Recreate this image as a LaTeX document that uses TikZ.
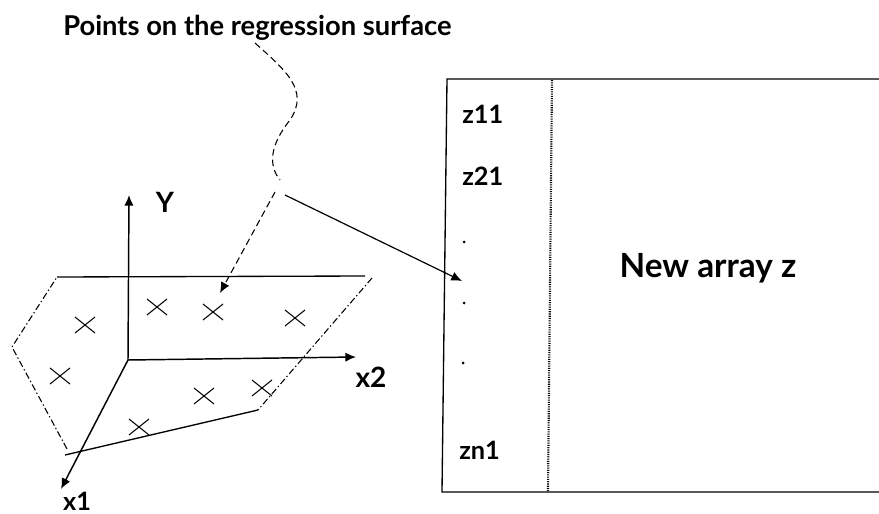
\documentclass[tikz,border=0pt]{standalone}
\usepackage{fontspec}
\setmainfont{Lato}
\usetikzlibrary{arrows.meta}
\begin{document}
\begin{tikzpicture}[x=0.75pt,y=-0.75pt,
  lbl/.style={font=\bfseries\fontsize{19}{22}\selectfont, inner sep=0pt},
  axis/.style={line width=1.1pt,-{Latex[length=8pt,width=7pt]}},
  edge/.style={line width=1pt},
  dedge/.style={line width=0.8pt,dash pattern=on 5pt off 2pt on 1pt off 2pt},
  lead/.style={line width=0.8pt,dash pattern=on 5pt off 3pt},
  ptr/.style={line width=0.9pt,-{Latex[length=8pt,width=7pt]}},
  cross/.style={line width=0.8pt}]
\useasboundingbox (0,0) rectangle (879,514);
% title
\node[lbl,font=\bfseries\fontsize{20.5}{24}\selectfont,anchor=west] (title) at (63,28) {Points on the regression surface};
% array box
\coordinate (bTR) at (879,79);
\coordinate (bTL) at (447,79);
\coordinate (bBL) at (442,492);
\coordinate (bBR) at (879,492);
\draw[edge] (bTR) -- (bTL) -- (bBL) -- (bBR);
\coordinate (dT) at (552,80);
\coordinate (dB) at (548,491);
\draw[line width=1.6pt,dash pattern=on 0.8pt off 0.9pt] (dT) -- (dB);
\node[lbl,anchor=west] (z11) at (462,114) {z11};
\node[lbl,anchor=west] (z21) at (462,176) {z21};
\node[lbl,anchor=west] (zn1) at (459,450) {zn1};
\node[lbl,font=\bfseries\fontsize{25}{30}\selectfont] (arr) at (708,268) {New array z};
\fill (464,242) circle (1.5);
\fill (464,303) circle (1.5);
\fill (463,363) circle (1.5);
% axes
\coordinate (O) at (128,360);
\coordinate (Yend) at (129,195);
\coordinate (X2end) at (356,357);
\coordinate (X1end) at (61,489);
\draw[axis] (O) -- (Yend);
\draw[axis] (O) -- (X2end);
\draw[axis] (O) -- (X1end);
\node[lbl,font=\bfseries\fontsize{21}{24}\selectfont] (Y) at (165,202) {Y};
\node[lbl,font=\bfseries\fontsize{21}{24}\selectfont] (x2) at (371,377) {x2};
\node[lbl,font=\bfseries\fontsize{19}{22}\selectfont,anchor=base] (x1) at (77,510) {x1};
% plane
\coordinate (p1) at (57,277);
\coordinate (p2) at (365,276);
\coordinate (p3) at (372,278);
\coordinate (p4) at (258,410);
\coordinate (p5) at (65,455);
\coordinate (p6) at (67,449);
\coordinate (p7) at (12,347);
\draw[edge] (p1) -- (p2);
\draw[dedge] (p3) -- (p4);
\draw[edge] (p4) -- (p5);
\draw[dedge] (p6) -- (p7) -- (p1);
% crosses
\foreach \cx/\cy in {85/325,157/307,213/312,295/318,60/376,204/396,262/388,139/427}{
  \draw[cross] (\cx-10,\cy-8) -- (\cx+10,\cy+8);
  \draw[cross] (\cx-10,\cy+8) -- (\cx+10,\cy-8);
}
% leader from title
\coordinate (w0) at (255,43);
\coordinate (w1) at (280,180);
\draw[lead] (w0) .. controls (285,70) and (310,90) .. (290,120)
  .. controls (270,145) and (268,165) .. (w1);
\coordinate (s1) at (275,192);
\coordinate (s2) at (220,293);
\draw[lead,-{Latex[length=8pt,width=7pt]}] (s1) -- (s2);
\coordinate (t1) at (285,195);
\coordinate (t2) at (462,281);
\draw[ptr] (t1) -- (t2);
\end{tikzpicture}
\end{document}
